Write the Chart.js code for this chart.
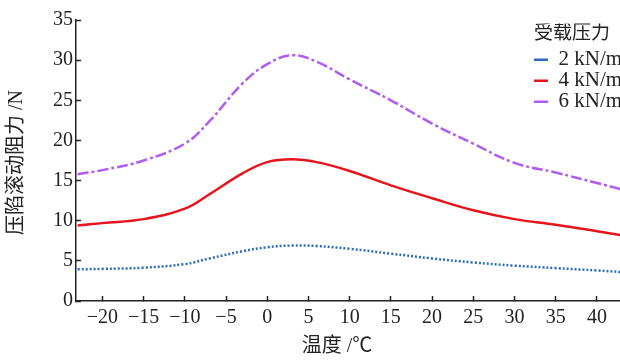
<!DOCTYPE html>
<html>
<head>
<meta charset="utf-8">
<script src="https://cdn.jsdelivr.net/npm/chart.js@4.4.0/dist/chart.umd.min.js"></script>
<style>
html,body{margin:0;padding:0;background:#fff;overflow:hidden}
#wrap{width:620px;height:360px;position:relative}
</style>
</head>
<body>
<div id="wrap"><canvas id="c" width="620" height="360"></canvas></div>
<script>
// ---- data ----
const temps = [-23, -20, -15, -10, -7, -3, 0, 3, 6, 10, 15, 20, 25, 30, 35, 40, 43];
const load2 = [3.95, 4.0, 4.15, 4.6, 5.3, 6.2, 6.7, 6.9, 6.85, 6.5, 5.9, 5.3, 4.8, 4.4, 4.1, 3.8, 3.6];
const load4 = [9.4, 9.7, 10.2, 11.5, 13.3, 15.9, 17.3, 17.65, 17.3, 16.2, 14.4, 12.8, 11.3, 10.2, 9.5, 8.7, 8.2];
const load6 = [15.8, 16.3, 17.5, 19.6, 22.4, 27.1, 29.5, 30.6, 29.8, 27.6, 25.0, 22.1, 19.6, 17.2, 16.0, 14.7, 13.9];
const seriesNames = ['2 kN/m²', '4 kN/m²', '6 kN/m²'];
const xTicks = [-20, -15, -10, -5, 0, 5, 10, 15, 20, 25, 30, 35, 40];
const yTicks = [0, 5, 10, 15, 20, 25, 30, 35];
const legendTitle = '受载压力';
const xTitle = '温度 /℃';
const yTitle = '压陷滚动阻力 /N';

const FONT = '"Liberation Serif", "Noto Sans CJK SC", serif';
const INK = '#222';

const toPts = arr => temps.map((t, i) => ({x: t, y: arr[i]}));

const legendPos = {
  id: 'legendPos',
  afterLayout(chart) {
    const lg = chart.legend;
    if (!lg) return;
    const w = lg.width, h = 110;
    lg.left = 534; lg.top = 23.5; lg.right = lg.left + w; lg.bottom = lg.top + h;
  }
};

const axisTitles = {
  id: 'axisTitles',
  afterDraw(chart) {
    const ctx = chart.ctx;
    ctx.save();
    ctx.fillStyle = INK;
    ctx.font = '20px ' + FONT;
    ctx.textAlign = 'center';
    ctx.textBaseline = 'middle';
    ctx.fillText(xTitle, 337, 347);
    ctx.translate(17, 162.5);
    ctx.rotate(-Math.PI / 2);
    ctx.fillText(yTitle, 0, 0);
    ctx.restore();
  }
};

new Chart(document.getElementById('c'), {
  type: 'line',
  data: {
    datasets: [
      {label: seriesNames[0], data: toPts(load2), borderColor: '#2b6cb8', backgroundColor: '#2b6cb8',
       borderWidth: 2.5, borderDash: [2, 2], pointRadius: 0, tension: 0.4, fill: false},
      {label: seriesNames[1], data: toPts(load4), borderColor: '#e8141c', backgroundColor: '#e8141c',
       borderWidth: 2.5, pointRadius: 0, tension: 0.4, fill: false},
      {label: seriesNames[2], data: toPts(load6), borderColor: '#b05cf0', backgroundColor: '#b05cf0',
       borderWidth: 2.5, borderDash: [11, 3, 3, 3], pointRadius: 0, tension: 0.4, fill: false}
    ]
  },
  options: {
    responsive: false,
    animation: false,
    devicePixelRatio: 1,
    layout: {padding: {top: 14, left: 0, right: 0, bottom: 0}},
    scales: {
      x: {
        type: 'linear', min: -23.2, max: 42.8,
        afterBuildTicks: s => { s.ticks = xTicks.map(v => ({value: v})); },
        afterFit: s => { s.height = 59; },
        border: {display: true, color: INK, width: 1.5},
        grid: {display: true, drawOnChartArea: false, drawTicks: true, tickLength: -5, tickColor: INK, tickWidth: 1.5},
        ticks: {color: INK, font: {family: FONT, size: 20}, padding: 10, autoSkip: false, maxRotation: 0,
                callback: v => String(v).replace('-', '\u2212')}
      },
      y: {
        type: 'linear', min: 0, max: 35,
        afterBuildTicks: s => { s.ticks = yTicks.map(v => ({value: v})); },
        afterFit: s => { s.width = 76; },
        border: {display: true, color: INK, width: 1.5},
        grid: {display: true, drawOnChartArea: false, drawTicks: true, tickLength: -5, tickColor: INK, tickWidth: 1.5},
        ticks: {color: INK, font: {family: FONT, size: 20}, padding: 8}
      }
    },
    plugins: {
      tooltip: {enabled: false},
      legend: {
        display: true,
        position: 'chartArea',
        align: 'start',
        title: {display: true, text: legendTitle, color: INK, position: 'start',
                font: {family: FONT, size: 19}, padding: {top: 1, bottom: 2}},
        labels: {color: INK, font: {family: FONT, size: 21}, usePointStyle: true, pointStyle: 'line',
                 pointStyleWidth: 14, padding: 0}
      }
    }
  },
  plugins: [legendPos, axisTitles]
});
</script>
</body>
</html>
